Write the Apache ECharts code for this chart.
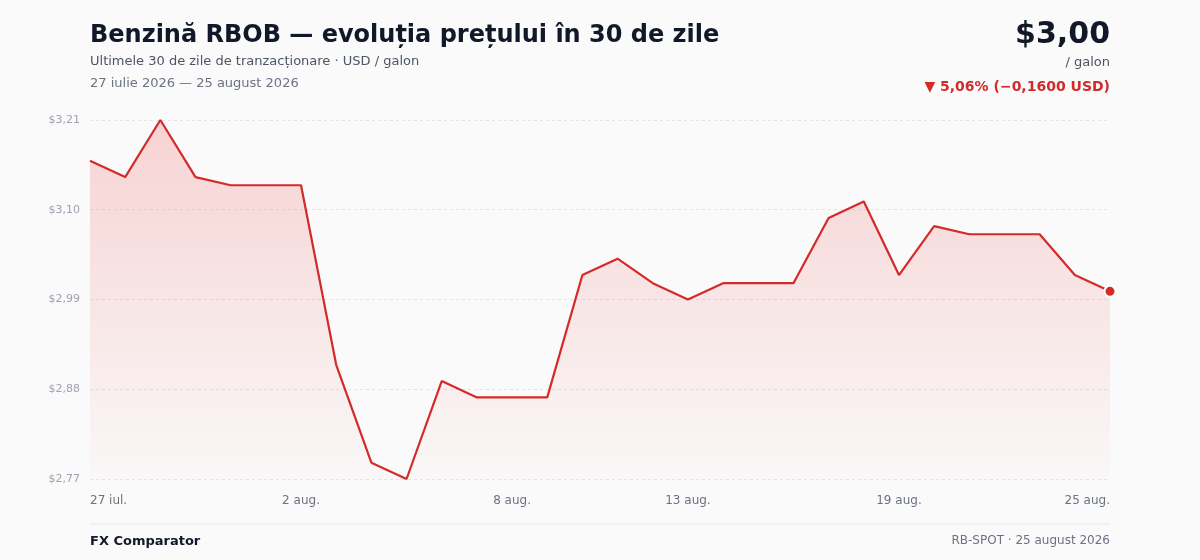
<!DOCTYPE html>
<html>
<head>
	<meta charset="utf-8">
	<title>Benzină RBOB</title>
	<script src="https://cdn.jsdelivr.net/npm/echarts@6/dist/echarts.min.js"></script>
	<style>
		html, body { margin: 0; padding: 0; background: #fafafa; }
		#container { width: 1200px; height: 560px; }
	</style>
</head>
<body>
	<div id="container"></div>
	<script type="text/javascript">

	// zilele (calendaristice) din ultimele 30
	var days = ['27 iul.', '28 iul.', '29 iul.', '30 iul.', '31 iul.',
		'1 aug.', '2 aug.', '3 aug.', '4 aug.', '5 aug.', '6 aug.', '7 aug.',
		'8 aug.', '9 aug.', '10 aug.', '11 aug.', '12 aug.', '13 aug.', '14 aug.',
		'15 aug.', '16 aug.', '17 aug.', '18 aug.', '19 aug.', '20 aug.', '21 aug.',
		'22 aug.', '23 aug.', '24 aug.', '25 aug.'];
	// pret USD / galon
	var prices = [3.16, 3.14, 3.21, 3.14, 3.13, 3.13, 3.13, 2.91, 2.79, 2.77,
		2.89, 2.87, 2.87, 2.87, 3.02, 3.04, 3.01, 2.99, 3.01, 3.01,
		3.01, 3.09, 3.11, 3.02, 3.08, 3.07, 3.07, 3.07, 3.02, 3.00];
	var shownLabels = [0, 6, 12, 17, 23, 29];
	var yTicks = [2.77, 2.88, 2.99, 3.10, 3.21];

	var red = '#d32a2a';
	var font = 'DejaVu Sans';

	function fmt(v) {
		return '$' + v.toFixed(2).replace('.', ',');
	}

	var last = prices[prices.length - 1];
	var lastPoint = prices.map(function (v, i) { return i == prices.length - 1 ? v : null; });

	var myChart = echarts.init(document.getElementById('container'));
	myChart.setOption({
		backgroundColor: '#fafafa',
		animation: false,
		textStyle: { fontFamily: font },
		title: [
			{
				text: 'Benzină RBOB — evoluția prețului în 30 de zile',
				left: 90, top: 24, padding: 0,
				textStyle: { fontSize: 24, fontWeight: 'bold', color: '#111827', fontFamily: font }
			},
			{
				text: 'Ultimele 30 de zile de tranzacționare · USD / galon',
				left: 90, top: 55, padding: 0,
				textStyle: { fontSize: 13, fontWeight: 'normal', color: '#4b5563', fontFamily: font }
			},
			{
				text: '27 iulie 2026 — 25 august 2026',
				left: 90, top: 77, padding: 0,
				textStyle: { fontSize: 13, fontWeight: 'normal', color: '#6b7280', fontFamily: font }
			},
			{
				text: fmt(last),
				right: 90, top: 20, padding: 0,
				textStyle: { fontSize: 30, fontWeight: 'bold', color: '#111827', fontFamily: font }
			},
			{
				text: '/ galon',
				right: 90, top: 56, padding: 0,
				textStyle: { fontSize: 13, fontWeight: 'normal', color: '#4b5563', fontFamily: font }
			},
			{
				text: '▼ 5,06% (−0,1600 USD)',
				right: 90, top: 80, padding: 0,
				textStyle: { fontSize: 14, fontWeight: 'bold', color: red, fontFamily: font }
			},
			{
				text: 'FX Comparator',
				left: 90, top: 535, padding: 0,
				textStyle: { fontSize: 13, fontWeight: 'bold', color: '#111827', fontFamily: font }
			},
			{
				text: 'RB-SPOT · 25 august 2026',
				right: 90, top: 535, padding: 0,
				textStyle: { fontSize: 12, fontWeight: 'normal', color: '#6b7280', fontFamily: font }
			}
		],
		graphic: [
			{
				type: 'line',
				shape: { x1: 90, y1: 524, x2: 1110, y2: 524 },
				style: { stroke: '#e8e8ec', lineWidth: 1 }
			}
		],
		grid: { left: 90, right: 90, top: 120, bottom: 81 },
		xAxis: {
			type: 'category',
			data: days,
			boundaryGap: false,
			axisLine: { show: false },
			axisTick: { show: false },
			axisLabel: {
				interval: function (i) { return shownLabels.indexOf(i) != -1; },
				color: '#6b7280',
				fontSize: 12,
				margin: 16,
				alignMinLabel: 'left',
				alignMaxLabel: 'right'
			},
			splitLine: { show: false }
		},
		yAxis: {
			type: 'value',
			min: yTicks[0],
			max: yTicks[yTicks.length - 1],
			interval: 0.11,
			axisLine: { show: false },
			axisTick: { show: false },
			axisLabel: {
				formatter: function (v) { return fmt(v); },
				color: '#9ca3af',
				fontSize: 11,
				margin: 10
			},
			splitLine: { lineStyle: { color: '#e3e4e8', type: [3, 3], width: 1 } }
		},
		series: [
			{
				type: 'line',
				data: prices,
				symbol: 'none',
				lineStyle: { color: red, width: 2.2 },
				areaStyle: {
					color: new echarts.graphic.LinearGradient(0, 0, 0, 1, [
						{ offset: 0, color: 'rgba(235,50,50,0.28)' },
						{ offset: 1, color: 'rgba(235,50,50,0.02)' }
					])
				},
				z: 2
			},
			{
				type: 'line',
				data: lastPoint,
				symbol: 'circle',
				symbolSize: 11,
				showSymbol: true,
				lineStyle: { width: 0 },
				itemStyle: { color: red, borderColor: '#ffffff', borderWidth: 2 },
				z: 3
			}
		]
	});

	</script>
</body>
</html>
